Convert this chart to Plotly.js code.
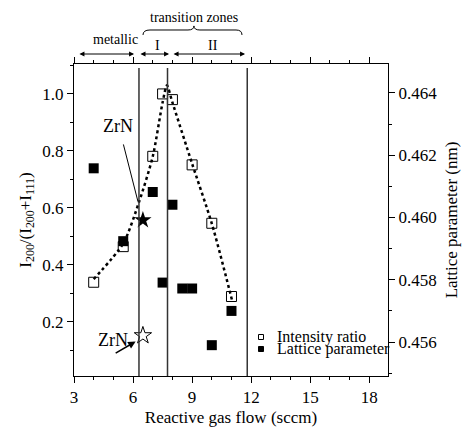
<!DOCTYPE html>
<html>
<head>
<meta charset="utf-8">
<script src="https://cdn.plot.ly/plotly-3.0.1.min.js"></script>
<style>html,body{margin:0;padding:0;background:#fff;}#chart{width:466px;height:427px;}</style>
</head>
<body>
<div id="chart"></div>
<script>
// Data
var flow = [4, 5.5, 7, 7.5, 8, 9, 10, 11];
var intensityRatio = [0.339, 0.464, 0.781, 1.0, 0.98, 0.751, 0.546, 0.289];
var latticeFlow = [4, 5.5, 7, 7.5, 8, 8.5, 9, 10, 11];
var latticeParam = [0.46158, 0.45924, 0.46082, 0.45791, 0.46041, 0.45772, 0.45772, 0.45590, 0.45700];
var fitFlow = [4, 5.5, 6.3, 7, 7.5, 7.72, 8, 9, 10, 11.05];
var fitRatio = [0.35, 0.475, 0.62, 0.78, 0.97, 1.03, 0.97, 0.755, 0.545, 0.27];
var zrnFlow = [6.5];
var zrnLattice = [0.557];   // filled star (plotted on left scale)
var zrnRatio = [0.152];     // open star
var zoneBounds = [6.3, 7.75, 11.8];
var zoneArrows = [[3.2, 6.05], [6.3, 7.83], [7.98, 11.69]];
var legendLabels = ['Intensity ratio', 'Lattice parameter'];
var xTicks = [3, 6, 9, 12, 15, 18];

var FONT = 'Liberation Serif';

var traces = [
  {x: fitFlow, y: fitRatio, mode: 'lines', line: {shape: 'spline', smoothing: 0.7, dash: 'dot', width: 2.5, color: '#000'}, showlegend: false, hoverinfo: 'skip'},
  {x: flow, y: intensityRatio, mode: 'markers', marker: {symbol: 'square-open', size: 10, color: '#000', line: {width: 1}}, showlegend: false},
  {x: latticeFlow, y: latticeParam, yaxis: 'y2', mode: 'markers', marker: {symbol: 'square', size: 10, color: '#000'}, showlegend: false},
  {x: zrnFlow, y: zrnLattice, mode: 'markers', marker: {symbol: 'star', size: 13, color: '#000'}, showlegend: false},
  {x: zrnFlow, y: zrnRatio, mode: 'markers', marker: {symbol: 'star-open', size: 13, color: '#000', line: {width: 1}}, showlegend: false}
];

function px2paperX(p) { return (p - 74) / 314; }
function px2paperY(p) { return (376 - p) / 312; }

var shapes = zoneBounds.map(function (b) {
  return {type: 'line', xref: 'x', yref: 'paper', x0: b, x1: b, y0: 0, y1: px2paperY(68), line: {color: '#333', width: 1.5}};
});
// curly brace over the transition zones
shapes.push({type: 'path', xref: 'paper', yref: 'paper',
  path: 'M 0.2197,1.093 Q 0.2197,1.109 0.242,1.109 L 0.363,1.109 Q 0.382,1.109 0.382,1.122 Q 0.382,1.109 0.401,1.109 L 0.516,1.109 Q 0.535,1.109 0.535,1.093',
  line: {color: '#000', width: 1}});
// legend markers
shapes.push({type: 'rect', xref: 'paper', yref: 'paper', x0: px2paperX(258.5), x1: px2paperX(263.5), y0: px2paperY(339.5), y1: px2paperY(334.5), line: {color: '#000', width: 1}, fillcolor: '#fff'});
shapes.push({type: 'rect', xref: 'paper', yref: 'paper', x0: px2paperX(258.5), x1: px2paperX(263.5), y0: px2paperY(351.5), y1: px2paperY(346.5), line: {color: '#000', width: 1}, fillcolor: '#000'});

function label(px, py, text, size, xanchor) {
  return {xref: 'paper', yref: 'paper', x: px2paperX(px), y: px2paperY(py), xanchor: xanchor || 'center', yanchor: 'middle',
    text: text, showarrow: false, font: {family: FONT, size: size, color: '#000'}};
}

var annotations = [
  label(194, 17, 'transition zones', 14),
  label(115, 39, 'metallic', 14),
  label(157, 45, 'I', 14),
  label(213, 45, 'II', 14),
  {xref: 'x', yref: 'y', x: 5.22, y: 0.889, xanchor: 'center', yanchor: 'middle', text: 'ZrN', showarrow: false, font: {family: FONT, size: 18, color: '#000'}},
  {xref: 'x', yref: 'y', x: 6.25, y: 0.622, axref: 'x', ayref: 'y', ax: 5.49, ay: 0.828, text: '', showarrow: true, arrowhead: 0, arrowwidth: 1, arrowcolor: '#000'},
  {xref: 'x', yref: 'y', x: 4.97, y: 0.135, xanchor: 'center', yanchor: 'middle', text: 'ZrN', showarrow: false, font: {family: FONT, size: 18, color: '#000'}},
  {xref: 'x', yref: 'y', x: 6.13, y: 0.131, axref: 'x', ayref: 'y', ax: 5.04, ay: 0.087, text: '', showarrow: true, arrowhead: 2, arrowsize: 1, arrowwidth: 1.5, arrowcolor: '#000'},
  label(275, 336.7, legendLabels[0], 16, 'left'),
  label(275, 349, legendLabels[1], 16, 'left')
];
zoneArrows.forEach(function (a) {
  annotations.push({xref: 'x', yref: 'paper', x: a[1], y: px2paperY(54), axref: 'x', ax: a[0], ayref: 'pixel', ay: 0,
    text: '', showarrow: true, arrowside: 'end+start', arrowhead: 2, arrowsize: 1, arrowwidth: 1, arrowcolor: '#000'});
});

var axisCommon = {
  showgrid: false, zeroline: false, showline: true, linecolor: '#000', linewidth: 1,
  ticks: 'outside', ticklen: 6, tickwidth: 1, tickcolor: '#000',
  tickfont: {family: FONT, size: 17, color: '#000'}
};

var layout = {
  width: 466, height: 427,
  margin: {l: 74, r: 78, t: 64, b: 51, pad: 0},
  paper_bgcolor: '#fff', plot_bgcolor: '#fff',
  font: {family: FONT, color: '#000'},
  xaxis: Object.assign({}, axisCommon, {
    range: [3, 18.95], tickvals: xTicks, mirror: 'ticks',
    minor: {dtick: 1, tick0: 3, ticks: 'outside', ticklen: 3, tickcolor: '#000'},
    title: {text: 'Reactive gas flow (sccm)', font: {family: FONT, size: 17, color: '#000'}, standoff: 4}
  }),
  yaxis: Object.assign({}, axisCommon, {
    range: [0.01, 1.105], dtick: 0.2, tick0: 0, tickformat: '.1f',
    minor: {dtick: 0.1, tick0: 0, ticks: 'outside', ticklen: 3, tickcolor: '#000'},
    title: {text: 'I<sub>200</sub>/(I<sub>200</sub>+I<sub>111</sub>)', font: {family: FONT, size: 17, color: '#000'}, standoff: 6}
  }),
  yaxis2: Object.assign({}, axisCommon, {
    overlaying: 'y', side: 'right', range: [0.45491, 0.46493], dtick: 0.002, tick0: 0.456, tickformat: '.3f',
    minor: {dtick: 0.001, tick0: 0.456, ticks: 'outside', ticklen: 3, tickcolor: '#000'},
    title: {text: 'Lattice parameter (nm)', font: {family: FONT, size: 17, color: '#000'}, standoff: 8}
  }),
  shapes: shapes,
  annotations: annotations,
  showlegend: false
};

Plotly.newPlot('chart', traces, layout, {displayModeBar: false, staticPlot: true});
</script>
</body>
</html>
